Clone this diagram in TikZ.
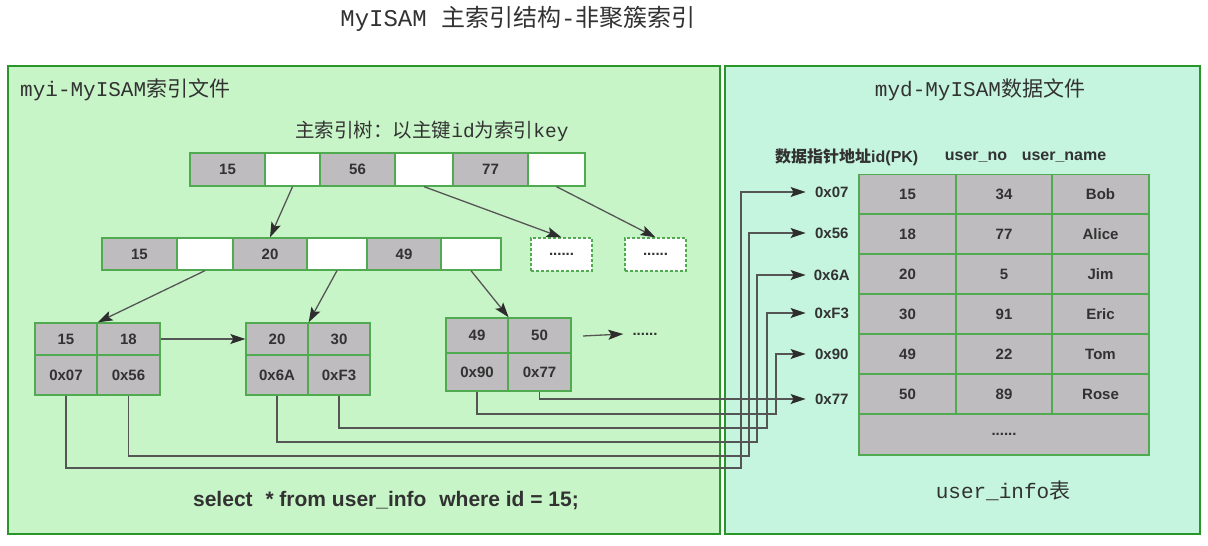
\documentclass[tikz,border=0pt]{standalone}
\usepackage{fontspec}
\setmainfont{Liberation Sans}
\setmonofont{Liberation Mono}
\newfontfamily\cjk{Noto Sans CJK SC}
\usetikzlibrary{arrows.meta}
\definecolor{leftbg}{RGB}{200,245,200}
\definecolor{rightbg}{RGB}{197,245,222}
\definecolor{panelline}{RGB}{40,150,40}
\definecolor{cellline}{RGB}{80,170,80}
\definecolor{cellgray}{RGB}{190,188,190}
\definecolor{txt}{RGB}{50,50,50}
\definecolor{wire}{RGB}{85,85,85}
\definecolor{tipc}{RGB}{45,45,45}
\tikzset{
  panel/.style={line width=2pt, draw=panelline},
  gcell/.style={draw=cellline, fill=cellgray, line width=1.3pt, inner sep=0pt, text=txt, font=\fontsize{15}{15}\selectfont\bfseries},
  wcell/.style={gcell, fill=white},
  dcell/.style={gcell, fill=white, dashed, dash pattern=on 3pt off 2pt},
  plabel/.style={inner sep=0pt, text=txt, font=\fontsize{15}{15}\selectfont\bfseries, minimum width=52pt},
  hlabel/.style={inner sep=0pt, text=txt, font=\fontsize{16}{16}\selectfont\bfseries},
  link/.style={draw=wire, line width=1.3pt, -{Stealth[length=15pt,width=10pt,inset=3pt,color=tipc]}},
}
\begin{document}
\begin{tikzpicture}[x=1pt,y=-1pt]
\useasboundingbox (0,0) rectangle (1208,546);
\fill[white] (0,0) rectangle (1208,546);
% title
\node[text=txt, font=\fontsize{24}{24}\selectfont] (title) at (518,19) {\ttfamily MyISAM \cjk 主索引结构\ttfamily -\cjk 非聚簇索引};
% panels
\draw[panel, fill=leftbg] (8,66) rectangle (720,534);
\draw[panel, fill=rightbg] (725,66) rectangle (1200,534);
\node[anchor=west, inner sep=0pt, text=txt, font=\fontsize{21}{21}\selectfont] (lefttitle) at (20,90) {\ttfamily myi-MyISAM\cjk 索引文件};
\node[text=txt, font=\fontsize{21}{21}\selectfont] (righttitle) at (980,90) {\ttfamily myd-MyISAM\cjk 数据文件};
\node[text=txt, font=\fontsize{19.5}{19.5}\selectfont] (treetitle) at (432,131) {\cjk 主索引树：以主键\ttfamily id\cjk 为索引\ttfamily key};
% top row
\node[gcell, minimum width=75, minimum height=33] (t1) at (227.5,169.5) {15};
\node[wcell, minimum width=55, minimum height=33] (t2) at (292.5,169.5) {};
\node[gcell, minimum width=75, minimum height=33] (t3) at (357.5,169.5) {56};
\node[wcell, minimum width=58, minimum height=33] (t4) at (424,169.5) {};
\node[gcell, minimum width=75, minimum height=33] (t5) at (490.5,169.5) {77};
\node[wcell, minimum width=57, minimum height=33] (t6) at (556.5,169.5) {};
% middle row
\node[gcell, minimum width=75, minimum height=32] (m1) at (139.5,254) {15};
\node[wcell, minimum width=56, minimum height=32] (m2) at (205,254) {};
\node[gcell, minimum width=74, minimum height=32] (m3) at (270,254) {20};
\node[wcell, minimum width=60, minimum height=32] (m4) at (337,254) {};
\node[gcell, minimum width=74, minimum height=32] (m5) at (404,254) {49};
\node[wcell, minimum width=60, minimum height=32] (m6) at (471,254) {};
\node[dcell, minimum width=61, minimum height=33] (d1) at (561.5,254.5) {......};
\node[dcell, minimum width=61, minimum height=33] (d2) at (655.5,254.5) {......};
% leaves
\node[gcell, minimum width=62, minimum height=32] (a1k1) at (66,339) {15};
\node[gcell, minimum width=63, minimum height=32] (a1k2) at (128.5,339) {18};
\node[gcell, minimum width=62, minimum height=40] (a1p1) at (66,375) {0x07};
\node[gcell, minimum width=63, minimum height=40] (a1p2) at (128.5,375) {0x56};
\node[gcell, minimum width=62, minimum height=32] (a2k1) at (277,339) {20};
\node[gcell, minimum width=62, minimum height=32] (a2k2) at (339,339) {30};
\node[gcell, minimum width=62, minimum height=40] (a2p1) at (277,375) {0x6A};
\node[gcell, minimum width=62, minimum height=40] (a2p2) at (339,375) {0xF3};
\node[gcell, minimum width=62, minimum height=35] (a3k1) at (477,335.5) {49};
\node[gcell, minimum width=63, minimum height=35] (a3k2) at (539.5,335.5) {50};
\node[gcell, minimum width=62, minimum height=38] (a3p1) at (477,372) {0x90};
\node[gcell, minimum width=63, minimum height=38] (a3p2) at (539.5,372) {0x77};
\node[inner sep=0pt, text=txt, font=\fontsize{15}{15}\selectfont\bfseries] (dots3) at (645,334) {......};
\coordinate (a3out) at (583,336);
% tree arrows
\draw[link] (t2.south) -- (m3.north);
\draw[link] (t4.south) -- (d1.north);
\draw[link] (t6.south) -- (d2.north);
\draw[link] (m2.south) -- (a1k1.north east);
\draw[link] (m4.south) -- (a2k1.north east);
\draw[link] (m6.south) -- (a3k1.north east);
\draw[link] (a1k2.east) -- (a2k1.west);
\draw[link] (a3out) -- ([xshift=-9pt]dots3.west);
% data table header
\node[hlabel, anchor=west] (hdr1) at (775,157) {\cjk 数据指针地址\rmfamily id(PK)};
\node[hlabel] (hdr2) at (976,157) {user\_no};
\node[hlabel] (hdr3) at (1064,157) {user\_name};
% table
\foreach \r/\y/\a/\b/\c in {1/194.5/15/34/Bob, 2/234/18/77/Alice, 3/274/20/5/Jim, 4/314/30/91/Eric, 5/354/49/22/Tom, 6/394/50/89/Rose}{
  \node[gcell, minimum width=97, minimum height=40] (r\r c1) at (907.5,\y) {\a};
  \node[gcell, minimum width=96, minimum height=40] (r\r c2) at (1004,\y) {\b};
  \node[gcell, minimum width=97, minimum height=40] (r\r c3) at (1100.5,\y) {\c};
}
\node[gcell, minimum width=290, minimum height=41] (r7) at (1004,434.5) {......};
% address labels
\node[plabel, anchor=east] (L07) at (858,192) {0x07};
\node[plabel, anchor=east] (L56) at (858,233) {0x56};
\node[plabel, anchor=east] (L6A) at (858,275) {0x6A};
\node[plabel, anchor=east] (LF3) at (858,313) {0xF3};
\node[plabel, anchor=east] (L90) at (858,354) {0x90};
\node[plabel, anchor=east] (L77) at (858,399) {0x77};
% pointer connectors
\coordinate (j07) at (741,468);
\coordinate (j56) at (749,456);
\coordinate (j6A) at (757,442);
\coordinate (jF3) at (767,428);
\coordinate (j90) at (776,414);
\draw[link] (a1p1.south) |- (j07) |- (L07.west);
\draw[link] (a1p2.south) |- (j56) |- (L56.west);
\draw[link] (a2p1.south) |- (j6A) |- (L6A.west);
\draw[link] (a2p2.south) |- (jF3) |- (LF3.west);
\draw[link] (a3p1.south) |- (j90) |- (L90.west);
\draw[link] (a3p2.south) |- (L77.west);
% bottom texts
\node[text=txt, font=\fontsize{21}{21}\selectfont\bfseries] (sql) at (386,501) {select\hspace{7pt} * from user\_info\hspace{7pt} where id = 15;};
\node[text=txt, font=\fontsize{21}{21}\selectfont] (tname) at (1003,491) {\ttfamily user\_info\cjk 表};
\end{tikzpicture}
\end{document}
